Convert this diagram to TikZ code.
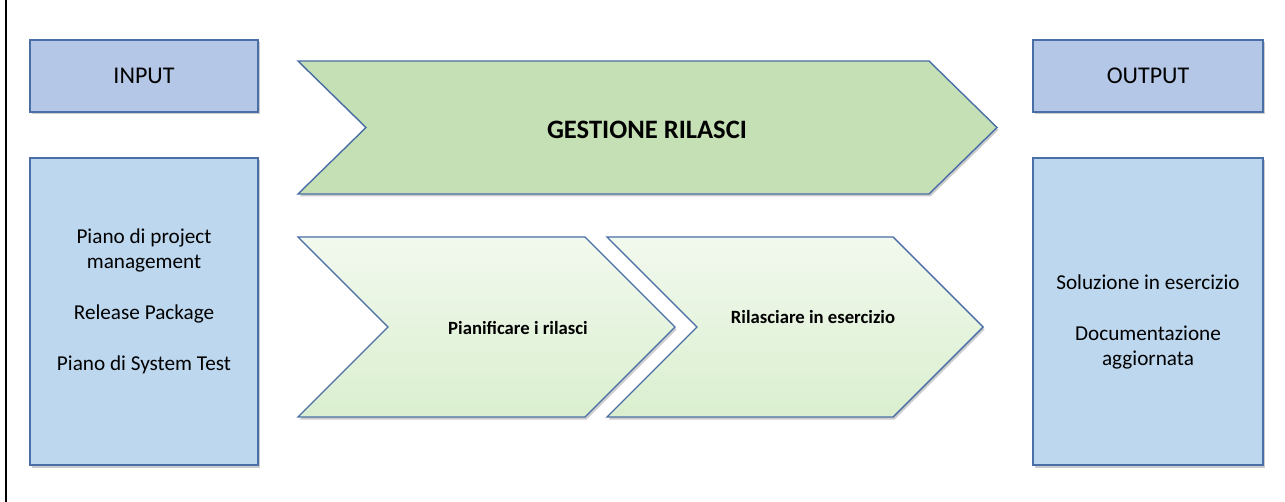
\documentclass[tikz,border=0pt]{standalone}
\usepackage{fontspec}
\setmainfont{Carlito}
\usetikzlibrary{shadows}

\definecolor{headBlue}{HTML}{B4C7E7}
\definecolor{bodyBlue}{HTML}{BDD7EE}
\definecolor{edgeBlue}{HTML}{4A6EA6}
\definecolor{mainGreen}{HTML}{C5E0B4}
\definecolor{stepTop}{HTML}{F2F9EE}
\definecolor{stepBottom}{HTML}{DAEFCF}

\begin{document}
\begin{tikzpicture}[x=1pt,y=-1pt]

\def\boxwidth{228pt}
\def\headheight{72pt}
\def\bodyheight{307pt}

\tikzstyle{softShadow}=[drop shadow={opacity=0.4,shadow xshift=1.5pt,shadow yshift=-2.5pt}]
\tikzstyle{headBox}=[rectangle,draw=edgeBlue,line width=1.4pt,fill=headBlue,minimum width=\boxwidth,minimum height=\headheight,inner sep=0pt,softShadow,font=\fontsize{24}{28}\selectfont]
\tikzstyle{bodyBox}=[headBox,fill=bodyBlue,minimum height=\bodyheight]
\tikzstyle{textBlock}=[align=center,font=\fontsize{21.2}{25}\selectfont]
\tikzstyle{mainArrow}=[draw=edgeBlue,line width=1.4pt,fill=mainGreen,softShadow]
\tikzstyle{stepArrow}=[draw=edgeBlue,line width=1.4pt,top color=stepTop,bottom color=stepBottom,softShadow]
\tikzstyle{stepLabel}=[font=\bfseries\fontsize{18.7}{22}\selectfont]

\useasboundingbox (0,0) rectangle (1285,502);

%left margin line
\coordinate (lineTop) at (6,0);
\coordinate (lineBottom) at (6,502);
\draw[line width=1.3pt] (lineTop) -- (lineBottom);

%input side
\node[headBox] (input) at (144,76) {INPUT};
\node[bodyBox] (inputBody) at (144,311.5) {};
\node[textBlock] (inputText) at (144,301) {Piano di project\\management\\[26pt]Release Package\\[26pt]Piano di System Test};

%output side
\node[headBox,minimum width=230pt] (output) at (1148,76) {OUTPUT};
\node[bodyBox,minimum width=230pt] (outputBody) at (1148,311.5) {};
\node[textBlock] (outputText) at (1148,322) {Soluzione in esercizio\\[26pt]Documentazione\\aggiornata};

%main process
\draw[mainArrow] (298,61) -- (929,61) -- (997,127.5) -- (929,194) -- (298,194) -- (366,127.5) -- cycle;
\node[font=\bfseries\fontsize{26.6}{30}\selectfont] (gestione) at (647,130) {GESTIONE RILASCI};

%steps
\draw[stepArrow] (298,237) -- (585,237) -- (675,327) -- (585,417) -- (298,417) -- (388,327) -- cycle;
\node[stepLabel] (pianificare) at (518,328) {Pianificare i rilasci};

\draw[stepArrow] (607,237) -- (893,237) -- (983,327) -- (893,417) -- (607,417) -- (697,327) -- cycle;
\node[stepLabel] (rilasciare) at (813,317) {Rilasciare in esercizio};

\end{tikzpicture}
\end{document}
